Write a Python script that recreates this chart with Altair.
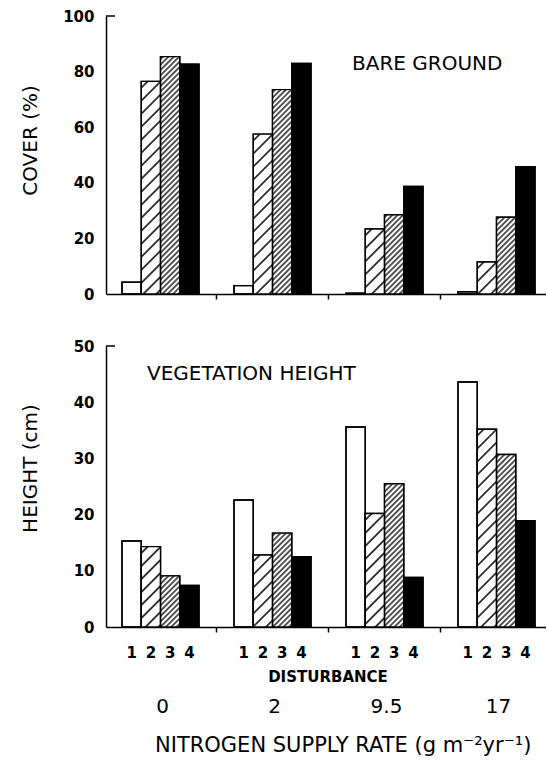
import base64
import altair as alt
import pandas as pd

# ---------------- data ----------------
groups = ["0", "2", "9.5", "17"]          # nitrogen supply rate
disturbance = [1, 2, 3, 4]

# bare ground cover (%) per nitrogen group, disturbance 1..4
bare_ground = [
    [4.2, 76.5, 85.4, 82.7],
    [3.0, 57.5, 73.5, 82.9],
    [0.3, 23.4, 28.5, 38.7],
    [0.8, 11.5, 27.6, 45.8],
]
# vegetation height (cm) per nitrogen group, disturbance 1..4
veg_height = [
    [15.3, 14.3, 9.1, 7.4],
    [22.6, 12.8, 16.7, 12.5],
    [35.6, 20.2, 25.5, 8.8],
    [43.6, 35.2, 30.7, 18.9],
]

cover_ticks = [0, 20, 40, 60, 80, 100]
height_ticks = [0, 10, 20, 30, 40, 50]

TOP_LABEL = "BARE GROUND"
BOTTOM_LABEL = "VEGETATION HEIGHT"
COVER_TITLE = "COVER (%)"
HEIGHT_TITLE = "HEIGHT (cm)"
DIST_TITLE = "DISTURBANCE"
N_TITLE = "NITROGEN SUPPLY RATE (g m\u207b\u00b2yr\u207b\u00b9)"


def frame(values):
    rows = []
    for g, vals in zip(groups, values):
        for d, v in zip(disturbance, vals):
            rows.append({"group": g, "dist": d, "value": v})
    return pd.DataFrame(rows)


def hatch(spacing, width):
    half = spacing / 2
    svg = (
        '<svg xmlns="http://www.w3.org/2000/svg">'
        '<defs><pattern id="h" patternUnits="userSpaceOnUse" '
        f'width="{spacing}" height="{spacing}" patternTransform="rotate(45)">'
        f'<line x1="{half}" y1="-2" x2="{half}" y2="{spacing + 2}" '
        f'stroke="black" stroke-width="{width}"/></pattern></defs>'
        '<rect width="100%" height="100%" fill="white"/>'
        '<rect width="100%" height="100%" fill="url(#h)"/></svg>'
    )
    return "data:image/svg+xml;base64," + base64.b64encode(svg.encode()).decode()


SPARSE = hatch(9.2, 1.5)
DENSE = hatch(3.8, 1.3)

FONT = "DejaVu Sans"
W = 440

xscale = alt.Scale(domain=groups, paddingInner=0.3125, paddingOuter=0.1205, align=0.593)
xaxis = alt.Axis(
    title=None, labels=False, values=groups[:3], bandPosition=1.227,
    tickSize=5, tickWidth=1.5, tickColor="black",
    domainColor="black", domainWidth=1.5, grid=False,
)
X = alt.X("group:N", sort=groups, scale=xscale, axis=xaxis)
XO = alt.XOffset("dist:O", scale=alt.Scale(domain=disturbance, paddingInner=0, paddingOuter=0))


def panel(values, ymax, ticks, ytitle, label, label_x, label_y, height, title_y, extra=None):
    df = frame(values)
    base = alt.Chart(df)
    Y = alt.Y(
        "value:Q",
        scale=alt.Scale(domain=[0, ymax], nice=False, zero=True),
        axis=alt.Axis(
            values=ticks, ticks=False, labelPadding=12, labelFont=FONT,
            labelFontSize=15, labelFontWeight="bold", labelColor="black",
            title=ytitle, titleFont=FONT, titleFontSize=20, titleFontWeight="normal",
            titleColor="black", titleX=-76, titleY=title_y, titleBaseline="middle",
            titleAngle=270, domainColor="black", domainWidth=1.5, grid=False,
        ),
    )
    bars = base.mark_bar(stroke="black", strokeWidth=1.4).encode(
        x=X, xOffset=XO, y=Y,
        fill=alt.Fill("dist:O", scale=alt.Scale(domain=disturbance,
                      range=["white", "white", "white", "black"]), legend=None),
    )
    img2 = base.transform_filter("datum.dist == 2").mark_image(aspect=False).encode(
        x=X, xOffset=XO, y=Y, y2=alt.datum(0), url=alt.value(SPARSE)
    )
    img3 = base.transform_filter("datum.dist == 3").mark_image(aspect=False).encode(
        x=X, xOffset=XO, y=Y, y2=alt.datum(0), url=alt.value(DENSE)
    )
    outline = base.mark_bar(fillOpacity=0, stroke="black", strokeWidth=1.4).encode(
        x=X, xOffset=XO, y=Y
    )
    lab = alt.Chart(pd.DataFrame({"t": [label]})).mark_text(
        font=FONT, fontSize=20, align="left", baseline="middle", color="black"
    ).encode(x=alt.value(label_x), y=alt.value(label_y), text="t:N")
    cap = alt.Chart(pd.DataFrame({"t": [label]})).mark_rule(
        color="black", strokeWidth=1.5
    ).encode(y=alt.datum(ymax), x=alt.value(0), x2=alt.value(9))
    layers = [bars, img2, img3, outline, lab, cap]
    if extra:
        layers += extra(df)
    return alt.layer(*layers).properties(width=W, height=height)


def bottom_extra(df):
    digits = alt.Chart(df).mark_text(
        font=FONT, fontSize=15, fontWeight="bold", baseline="middle", color="black"
    ).encode(x=X, xOffset=XO, y=alt.value(307), text="dist:O")
    nlab = alt.Chart(pd.DataFrame({"group": groups})).mark_text(
        font=FONT, fontSize=20, baseline="middle", color="black", dx=2
    ).encode(x=X, y=alt.value(361), text="group:N")
    dist = alt.Chart(pd.DataFrame({"t": [DIST_TITLE]})).mark_text(
        font=FONT, fontSize=15, fontWeight="bold", baseline="middle", color="black"
    ).encode(x=alt.value(222), y=alt.value(331), text="t:N")
    ntitle = alt.Chart(pd.DataFrame({"t": [N_TITLE]})).mark_text(
        font=FONT, fontSize=21, align="left", baseline="middle", color="black"
    ).encode(x=alt.value(49), y=alt.value(400), text="t:N")
    return [digits, nlab, dist, ntitle]


top = panel(bare_ground, 100, cover_ticks, COVER_TITLE, TOP_LABEL, 246, 48, 278, 124)
bottom = panel(veg_height, 50, height_ticks, HEIGHT_TITLE, BOTTOM_LABEL, 41, 28, 281, 122,
               extra=bottom_extra)

chart = alt.vconcat(top, bottom, spacing=52, bounds="flush").properties(
    padding={"left": 20, "top": 9, "right": 0, "bottom": 0}
).configure_view(stroke=None).configure_axis(grid=False)

chart.save("out.html", embed_options={"renderer": "svg", "actions": False})
